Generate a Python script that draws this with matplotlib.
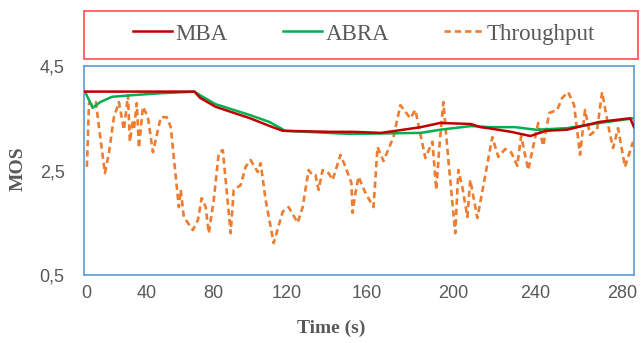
import matplotlib.pyplot as plt
from matplotlib.patches import Rectangle

# data (time in s, MOS)
mba_t = [0, 57, 60, 68, 86, 97, 103, 128, 140, 154, 162, 175, 185, 201, 206, 210, 222, 232, 240, 251, 268, 284, 286]
mba_v = [4.01, 4.01, 3.89, 3.72, 3.50, 3.34, 3.26, 3.24, 3.24, 3.22, 3.26, 3.33, 3.41, 3.39, 3.33, 3.31, 3.24, 3.16, 3.26, 3.28, 3.43, 3.50, 3.33]

abra_t = [0, 4, 8, 14, 24, 40, 52, 57, 60, 68, 86, 96, 102, 104, 138, 175, 185, 201, 211, 224, 235, 251, 268, 286]
abra_v = [4.01, 3.70, 3.81, 3.91, 3.94, 3.98, 4.00, 4.01, 3.94, 3.77, 3.56, 3.43, 3.31, 3.26, 3.20, 3.22, 3.28, 3.35, 3.33, 3.33, 3.28, 3.31, 3.41, 3.50]

thr_t = [1.0, 2.1, 4.2, 5.7, 7.3, 10.4, 12.5, 15.1, 17.7, 20.3, 22.4, 23.4, 25.0, 25.5, 27.0, 28.1,
         30.2, 32.8, 35.4, 39.5, 42.6, 44.7, 47.3, 48.9, 49.9, 51.5, 56.2, 58.8, 60.8, 62.9, 64.5,
         67.1, 69.7, 71.8, 75.9, 77.5, 81.1, 83.7, 86.3, 90.0, 91.5, 94.1, 98.3, 103.0, 106.1,
         110.8, 113.4, 116.5, 118.6, 120.1, 121.7, 123.8, 126.9, 129.0, 133.1, 135.7, 138.8,
         139.4, 140.9, 142.5, 146.1, 150.3, 152.4, 155.5, 160.7, 164.3, 169.5, 172.1, 177.3,
         181.0, 183.0, 184.6, 186.7, 189.3, 192.9, 194.5, 196.6, 199.2, 200.7, 204.4, 212.2,
         215.3, 218.9, 222.0, 225.2, 227.2, 230.9, 236.1, 238.7, 241.8, 246.0, 248.6, 251.7,
         254.8, 257.9, 260.5, 263.1, 266.8, 269.4, 272.5, 275.1, 277.7, 281.3, 285.5]
thr_v = [2.57, 3.79, 3.75, 3.81, 3.33, 2.45, 2.84, 3.52, 3.81, 3.28, 3.94, 3.05, 3.47, 3.28, 3.79, 2.93,
         3.72, 3.52, 2.85, 3.52, 3.52, 3.33, 2.38, 1.80, 2.13, 1.61, 1.36, 1.55, 1.97, 1.80, 1.30,
         1.94, 2.84, 2.89, 1.30, 2.13, 2.22, 2.57, 2.70, 2.47, 2.64, 1.94, 1.11, 1.71, 1.80,
         1.50, 1.80, 2.51, 2.41, 2.41, 2.13, 2.51, 2.45, 2.32, 2.80, 2.57, 2.26,
         1.69, 2.07, 2.38, 2.07, 1.80, 2.95, 2.68, 3.14, 3.75, 3.50, 3.66, 2.74,
         3.05, 2.13, 2.95, 3.81, 2.70, 1.30, 2.51, 2.18, 1.61, 2.32, 1.59, 3.14,
         2.76, 2.91, 2.85, 2.59, 3.16, 2.51, 3.41, 2.97, 3.60, 3.66, 3.89, 4.00,
         3.75, 2.80, 3.66, 3.18, 3.29, 4.00, 3.37, 2.93, 3.31, 2.57, 3.05]

# tick labels sit where the original chart put them
xtick_pos = [0.5, 32.2, 66.6, 105, 146.6, 191.9, 234.5, 279.8]
xtick_lab = ['0', '40', '80', '120', '160', '200', '240', '280']
ytick_pos = [0.5, 2.5, 4.5]
ytick_lab = ['0,5', '2,5', '4,5']

grey = '#595959'

fig = plt.figure(figsize=(6.42, 3.43), dpi=100)
ax = fig.add_axes([84/642, 1 - 275/343, 550/642, 209/343])

ax.plot(mba_t, mba_v, color='#C00000', lw=1.8, label='MBA', zorder=3)
ax.plot(abra_t, abra_v, color='#00B050', lw=1.8, label='ABRA', zorder=2)
ax.plot(thr_t, thr_v, color='#ED7D31', lw=1.9, ls=(0, (2.4, 1.5)), label='Throughput', zorder=1)

ax.set_xlim(-0.5, 286)
ax.set_ylim(0.5, 4.5)
ax.set_xticks(xtick_pos)
ax.set_xticklabels(xtick_lab)
ax.set_yticks(ytick_pos)
ax.set_yticklabels(ytick_lab)
ax.tick_params(length=0, labelsize=13, labelcolor=grey)
ax.tick_params(axis='y', pad=14)
ax.tick_params(axis='x', pad=7)
for lab in ax.get_xticklabels() + ax.get_yticklabels():
    lab.set_fontfamily('Liberation Sans')

for s in ax.spines.values():
    s.set_color('#5B9BD5')
    s.set_linewidth(1.2)

ax.set_xlabel('Time (s)', family='Liberation Serif', fontweight='bold', fontsize=14, color=grey)
ax.xaxis.set_label_coords(0.449, -0.215)
ax.set_ylabel('MOS', family='Liberation Serif', fontweight='bold', fontsize=14, color=grey)
ax.yaxis.set_label_coords(-0.105, 0.51)

# legend box in red, drawn separately
fig.patches.append(Rectangle((84/642, 1 - 59/343), 554/642, 48/343, transform=fig.transFigure,
                             fill=False, edgecolor='#FF4B4B', lw=1.2))
leg = fig.legend(loc='center', bbox_to_anchor=(0.567, 1 - 34/343), ncol=3, frameon=False,
                 prop={'family': 'Liberation Serif', 'size': 16.5}, handlelength=1.7,
                 handletextpad=0.15, columnspacing=2.4, labelcolor=grey)

fig.savefig('out.png', dpi=100)
